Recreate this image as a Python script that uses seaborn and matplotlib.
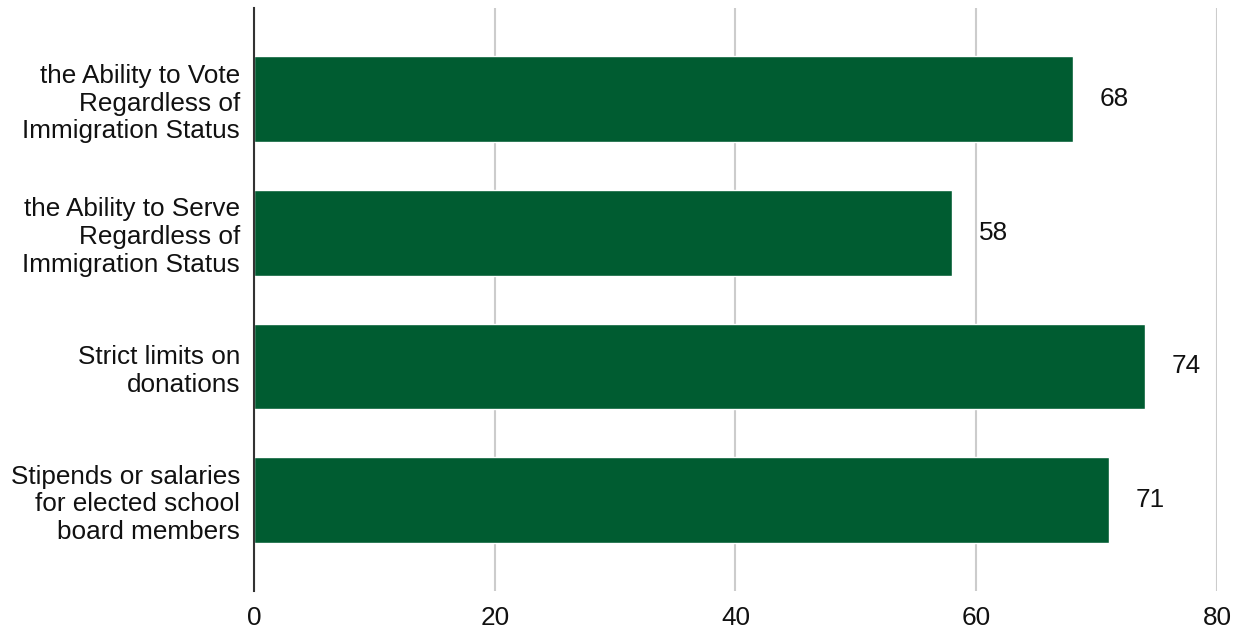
import matplotlib
matplotlib.use("Agg")
import matplotlib.pyplot as plt
import seaborn as sns
import pandas as pd

categories = [
    "the Ability to Vote\nRegardless of\nImmigration Status",
    "the Ability to Serve\nRegardless of\nImmigration Status",
    "Strict limits on\ndonations",
    "Stipends or salaries\nfor elected school\nboard members",
]
values = [68, 58, 74, 71]
x_ticks = [0, 20, 40, 60, 80]

sns.set_theme(style="white")
plt.rcParams["font.family"] = ["Liberation Sans", "DejaVu Sans"]

FS = 18.8

df = pd.DataFrame({"category": categories, "value": values})

fig = plt.figure(figsize=(12.38, 6.32), dpi=100)
ax = fig.add_axes([0.2052, 0.0649, 0.983 - 0.2052, 0.987 - 0.0649])

sns.barplot(data=df, x="value", y="category", orient="h", color="#005C31",
            saturation=1, width=0.64, ax=ax, zorder=3)

for i, v in enumerate(values):
    ax.annotate(str(v), xy=(v, i), xytext=(19.5, 0), textcoords="offset points",
                ha="left", va="center", fontsize=FS, color="#111111")

ax.set_xlim(0, 80)
ax.set_ylim(3.68, -0.68)
ax.set_xticks(x_ticks)
ax.set_xticklabels([str(t) for t in x_ticks])
ax.set_xlabel("")
ax.set_ylabel("")
ax.xaxis.grid(True, color="#cccccc", linewidth=1.5, zorder=0)
ax.yaxis.grid(False)
ax.set_axisbelow(True)
ax.tick_params(axis="both", length=0, labelsize=FS, colors="#111111")
ax.tick_params(axis="x", pad=11)
ax.tick_params(axis="y", pad=10)
for side in ["top", "right", "bottom"]:
    ax.spines[side].set_visible(False)
ax.spines["left"].set_color("#333333")
ax.spines["left"].set_linewidth(1.5)
ax.spines["left"].set_zorder(4)
for lbl in ax.get_yticklabels():
    lbl.set_multialignment("right")

fig.savefig("out.png", dpi=100)
